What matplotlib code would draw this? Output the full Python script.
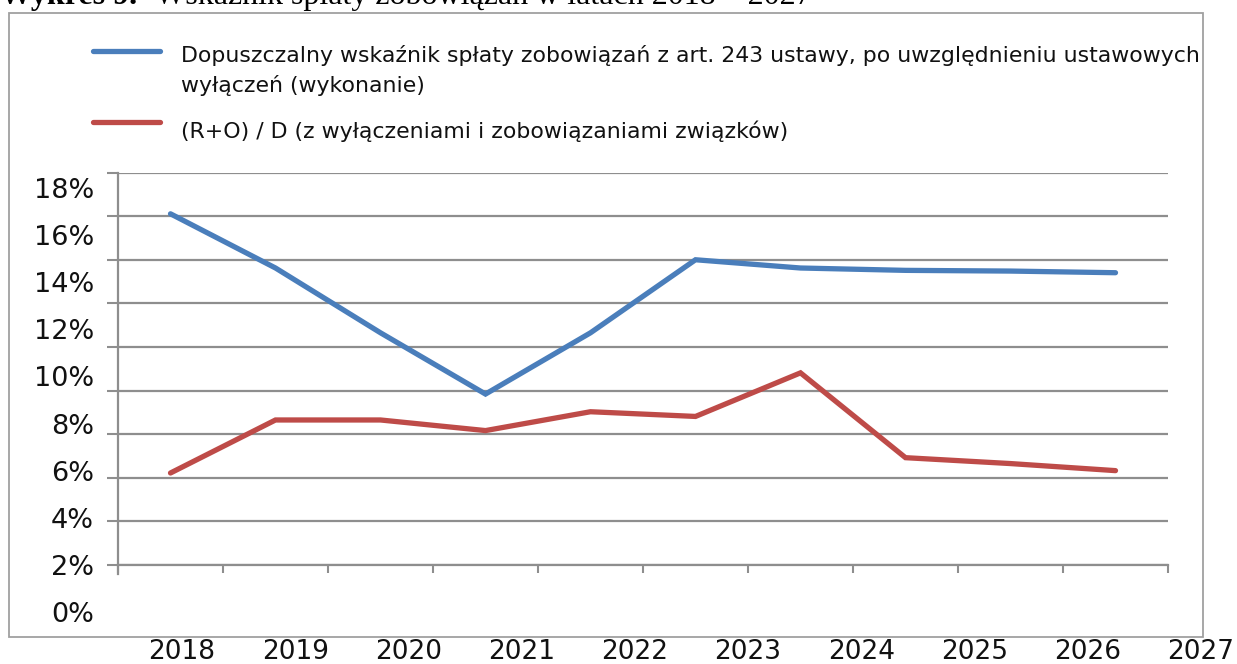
import matplotlib
matplotlib.use("Agg")
import matplotlib.pyplot as plt
from matplotlib.patches import Rectangle
from matplotlib.transforms import blended_transform_factory, Bbox, TransformedBbox

# ---------------- data ----------------
years = ["2018", "2019", "2020", "2021", "2022", "2023", "2024", "2025", "2026", "2027"]
blue_vals = [16.9, 14.6, 11.85, 9.25, 11.85, 14.95, 14.6, 14.5, 14.47, 14.4]
red_vals = [5.9, 8.15, 8.15, 7.7, 8.5, 8.3, 10.15, 6.55, 6.3, 6.0]
ytick_vals = [0, 2, 4, 6, 8, 10, 12, 14, 16, 18]
grid_vals = [0, 2, 4, 6, 8, 10, 12, 14, 16, 18]
blue_label = "Dopuszczalny wskaźnik spłaty zobowiązań z art. 243 ustawy, po uwzględnieniu ustawowych"
blue_label2 = "wyłączeń (wykonanie)"
red_label = "(R+O) / D (z wyłączeniami i zobowiązaniami związków)"
title_bold = "Wykres 9."
title_rest = "Wskaźnik spłaty zobowiązań w latach 2018 – 2027"

BLUE = "#4A7EBB"
RED = "#BE4B48"
GRID = "#8E8E8E"

W, H = 1237, 664
fig = plt.figure(figsize=(W / 100, H / 100), dpi=100)
fig.patch.set_facecolor("white")

def px(x0, y0, x1, y1):
    # pixel box (top-left origin) -> figure rect
    return [x0 / W, (H - y1) / H, (x1 - x0) / W, (y1 - y0) / H]

# main axes: gridlines & axis lines
ax = fig.add_axes(px(118, 172.7, 1168, 565))
ax.set_xlim(-0.5, len(years) - 0.5)
ax.set_ylim(0, 18)
ax.set_yticks(grid_vals)
ax.set_yticklabels([])
ax.set_xticks([i - 0.5 for i in range(len(years) + 1)])
ax.set_xticklabels([])
ax.tick_params(axis="y", length=8, width=1.5, color=GRID, direction="out")
ax.tick_params(axis="x", length=6, width=1.5, color=GRID, direction="out")
ax.yaxis.grid(True, color=GRID, lw=1.6)
ax.set_axisbelow(True)
for s in ["top", "right"]:
    ax.spines[s].set_visible(False)
for s in ["left", "bottom"]:
    ax.spines[s].set_color(GRID)
    ax.spines[s].set_linewidth(1.6)
ax.spines["left"].set_bounds(-0.4, 18)

# data axes (value scale as labelled)
ax2 = ax.twinx()
ax2.set_ylim(1.995, 18.645)
ax2.set_axis_off()
xs = list(range(len(years)))
ax2.plot(xs, blue_vals, color=BLUE, lw=3.8, solid_capstyle="round", solid_joinstyle="miter", clip_on=False)
ax2.plot(xs, red_vals, color=RED, lw=3.8, solid_capstyle="round", solid_joinstyle="miter", clip_on=False)

# y labels
tr_y = blended_transform_factory(ax.transAxes, ax2.transData)
for v in ytick_vals:
    ax2.text(-0.0229, v, f"{v}%", transform=tr_y, ha="right", va="center_baseline",
             fontsize=19.5, family="DejaVu Sans", color="#111111", clip_on=False)

# x labels
tr_x = blended_transform_factory(ax.transData, fig.transFigure)
for i, yr in enumerate(years):
    xd = -0.5 + (182 + 113.2 * i - 118) / 105
    ax.text(xd, (H - 652) / H, yr, transform=tr_x, ha="center", va="center",
            fontsize=19, family="DejaVu Sans", color="#111111", clip_on=False)

# outer frame
frame = Rectangle((9 / W, (H - 637) / H), (1203 - 9) / W, (637 - 13) / H,
                  transform=fig.transFigure, fill=False, ec="#A0A0A0", lw=1.3)
fig.patches.append(frame)

# legend
clipbox = TransformedBbox(Bbox([[0, 0], [1203 / W, 1]]), fig.transFigure)
fig.add_artist(plt.Line2D([93 / W, 160 / W], [(H - 51) / H] * 2, color=BLUE, lw=3.8,
                          solid_capstyle="round", transform=fig.transFigure))
fig.add_artist(plt.Line2D([93 / W, 160 / W], [(H - 122) / H] * 2, color=RED, lw=3.8,
                          solid_capstyle="round", transform=fig.transFigure))
lfont = dict(fontsize=15.8, family="DejaVu Sans", color="#111111", va="baseline", ha="left")
t1 = fig.text(181 / W, (H - 61.5) / H, blue_label, **lfont)
t1.set_clip_box(clipbox)
t1.set_clip_on(True)
fig.text(181 / W, (H - 92) / H, blue_label2, **lfont)
fig.text(181 / W, (H - 138) / H, red_label, **lfont)

# title (cut off at top as in reference)
fig.text(0, (H - 4) / H, title_bold, fontsize=23, family="Liberation Serif",
         fontweight="bold", va="baseline", ha="left", color="black")
fig.text(155 / W, (H - 4) / H, title_rest, fontsize=23, family="Liberation Serif",
         va="baseline", ha="left", color="black")

fig.savefig("out.png", dpi=100, facecolor="white")
